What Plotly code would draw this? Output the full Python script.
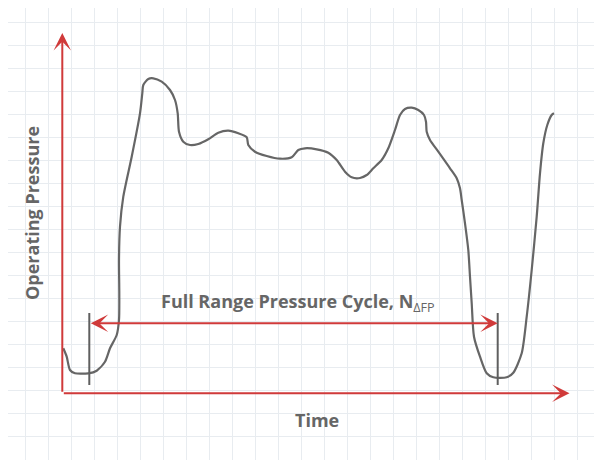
import plotly.graph_objects as go

# pressure trace (x = time, y = pressure, screen-like units)
curve_x = [63.3, 66.7, 70, 75, 88.3, 96.7, 105, 110, 116.7, 119, 119.3, 119, 120, 123.3,
           131.7, 140, 142.3, 143.3, 148.3, 153.3, 161.7, 170, 175, 177.7, 179, 183.3,
           190, 198.3, 208.3, 218.3, 228.3, 238.3, 246.7, 248.3, 255, 266.7, 280, 291.7,
           298.3, 305, 316.7, 328.3, 336.7, 345, 351.7, 360, 366.7, 373.3, 381.7, 388.3,
           395, 400, 405, 411.7, 418.3, 424, 426, 426.7, 430, 438.3, 450, 456.7, 460,
           461.7, 465, 468.3, 470, 471.7, 474, 480, 486.7, 493.3, 506.7, 513.3, 521.7,
           526.7, 531.7, 536.7, 540, 543.3, 547.3, 551.7, 554]
curve_y = [348.3, 356.7, 370, 373.3, 373.3, 370.7, 361.7, 348.3, 335, 320, 293.3, 260,
           226.7, 196.7, 156.7, 113.3, 93.3, 85, 79, 78.3, 81.7, 90, 100, 113.3, 131.7,
           141.7, 145, 144, 139.3, 132.7, 130.7, 133.3, 137.3, 145, 151.7, 156, 158.7,
           157.3, 150, 148.3, 149.3, 152.7, 160, 171.7, 177.3, 178, 175, 168.3, 160,
           148.3, 130, 115, 109, 107.7, 110, 115, 121.7, 131.7, 140, 151.7, 168.3, 178.3,
           188.3, 200, 223.3, 250, 276.7, 303.3, 336.7, 356.7, 373.3, 377.3, 377.3, 372.7,
           353.3, 316.7, 270, 216.7, 173.3, 143.3, 125, 115, 113.3]

# axes and cycle markers
origin = [62.3, 393.3]
y_axis_top = 33
x_axis_end = 569.5
cycle_start = 89.3
cycle_end = 497.7
cycle_y = 323.3
marker_top = 313
marker_bottom = 385

red = "#d03a3a"
grey = "#666666"

# the page body has an 8px margin, so the plot starts at (8, 8)
pad = 8

fig = go.Figure()

fig.add_trace(go.Scatter(
    x=curve_x, y=curve_y, mode="lines",
    line=dict(color=grey, width=2.2, shape="spline", smoothing=0.7),
    hoverinfo="skip"))

for xm in [cycle_start, cycle_end]:
    fig.add_trace(go.Scatter(
        x=[xm, xm], y=[marker_top, marker_bottom], mode="lines",
        line=dict(color="#5f5f5f", width=2), hoverinfo="skip"))

arrow_style = dict(showarrow=True, text="", axref="x", ayref="y", xref="x", yref="y",
                   arrowhead=3, arrowsize=1.45, arrowwidth=2, arrowcolor=red)

# y axis arrow
fig.add_annotation(x=origin[0], y=y_axis_top, ax=origin[0], ay=origin[1], **arrow_style)
# x axis arrow
fig.add_annotation(x=x_axis_end, y=origin[1], ax=origin[0], ay=origin[1], **arrow_style)
# full range cycle double arrow
fig.add_annotation(x=cycle_end, y=cycle_y, ax=cycle_start, ay=cycle_y,
                   arrowside="end+start", startarrowhead=3, startarrowsize=1.45,
                   **arrow_style)

text_font = dict(family="Open Sans", size=18, color=grey)
fig.add_annotation(x=298, y=302, text="<b>Full Range Pressure Cycle, N</b><sub>∆FP</sub>",
                   showarrow=False, font=text_font)
fig.add_annotation(x=316.5, y=420, text="<b>Time</b>", showarrow=False, font=text_font)
fig.add_annotation(x=32, y=213, text="<b>Operating Pressure</b>", textangle=-90,
                   showarrow=False, font=text_font)

fig.update_layout(
    width=602 - pad, height=460 - pad,
    margin=dict(l=0, r=0, t=0, b=0),
    plot_bgcolor="white", paper_bgcolor="white",
    showlegend=False,
    xaxis=dict(range=[pad, 602], tick0=2, dtick=23, showgrid=True, gridcolor="#e8ecf0",
               gridwidth=1, zeroline=False, showticklabels=False, ticks="", fixedrange=True),
    yaxis=dict(range=[460, pad], tick0=22.7, dtick=23, showgrid=True, gridcolor="#e8ecf0",
               gridwidth=1, zeroline=False, showticklabels=False, ticks="", fixedrange=True),
)

fig.write_html("out.html", config={"displayModeBar": False})
